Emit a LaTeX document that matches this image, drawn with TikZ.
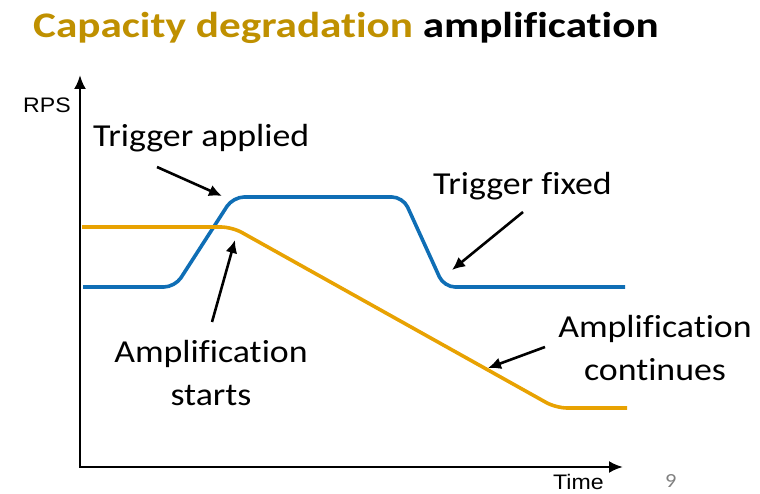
\documentclass[tikz,border=0pt]{standalone}
\usepackage{fontspec}
\setmainfont{Carlito}[FakeStretch=1.12, Ligatures=NoCommon]
\newfontfamily\titlefont{Carlito}[FakeStretch=1.2, Ligatures=NoCommon]
\newfontfamily\axisfont{Liberation Sans}[FakeStretch=1.1]
\usetikzlibrary{arrows.meta}
\definecolor{titlegold}{HTML}{BF9000}
\definecolor{rpsblue}{HTML}{0F6EB5}
\definecolor{rpsorange}{HTML}{E8A202}

\begin{document}
\begin{tikzpicture}[x=1pt,y=-1pt,
  curve/.style={line width=3.6pt, rounded corners=11pt},
  axis/.style={line width=2.6pt, -{Latex[length=14pt,width=12pt]}},
  pointer/.style={line width=2.6pt, -{Latex[length=13pt,width=12pt]}},
  lbl/.style={inner sep=0pt, font=\fontsize{32}{43}\selectfont},
  axlbl/.style={inner sep=0pt, font=\axisfont\fontsize{21}{21}\selectfont}]
  \useasboundingbox (0,0) rectangle (760,494);
  % title
  \node[anchor=base west, inner sep=0pt, font=\titlefont\bfseries\fontsize{36}{36}\selectfont] (title) at (33,38) {\textcolor{titlegold}{Capacity degradation} amplification};
  % axes
  \coordinate (origin) at (80,467);
  \coordinate (ytop) at (80,75);
  \coordinate (xend) at (623,467);
  \draw[axis, line cap=rect] (origin) -- (ytop);
  \draw[axis] (origin) -- (xend);
  \node[axlbl, anchor=base west] (rps) at (23,113) {RPS};
  \node[axlbl, anchor=base west] (time) at (553,489) {Time};
  \node[inner sep=0pt, anchor=base west, text=gray, font=\fontsize{20}{20}\selectfont] (page) at (665,487) {9};
  % curves
  \draw[curve, rpsblue] (83,287) -- (175,287) -- (233,197) -- (403,197) -- (444,287) -- (625,287);
  \draw[curve, rpsorange] (82,227) -- (232,227) -- (556,408) -- (627,408);
  % labels
  \node[lbl, anchor=base west] (trigapp) at (93,147) {Trigger applied};
  \node[lbl, anchor=base west] (trigfix) at (433,195) {Trigger fixed};
  \node[lbl, anchor=base, align=center] (ampstart) at (211,405) {Amplification\\starts};
  \node[lbl, anchor=base, align=center] (ampcont) at (655,380) {Amplification\\continues};
  % pointers
  \coordinate (p1) at (157,167);  \coordinate (q1) at (222,196);
  \coordinate (p2) at (212,322);  \coordinate (q2) at (235,240);
  \coordinate (p3) at (523,212);  \coordinate (q3) at (452,270);
  \coordinate (p4) at (545,347);  \coordinate (q4) at (488,368);
  \draw[pointer] (p1) -- (q1);
  \draw[pointer] (p2) -- (q2);
  \draw[pointer] (p3) -- (q3);
  \draw[pointer] (p4) -- (q4);
\end{tikzpicture}
\end{document}
